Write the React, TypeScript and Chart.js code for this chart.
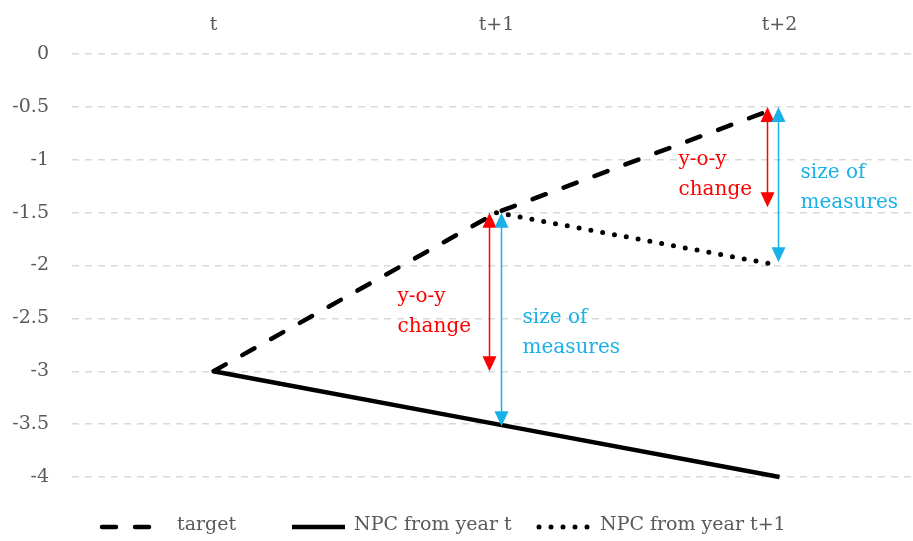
import React, { useEffect, useRef } from 'react';
import { Chart, registerables } from 'chart.js';

Chart.register(...registerables);

// ---- data ----
const categories = ['t', 't+1', 't+2'];
const seriesLabels = ['target', 'NPC from year t', 'NPC from year t+1'];
const targetValues = [-3, -1.5, -0.5];
const npcFromYearT = [-3, -3.5, -4];
const npcFromYearT1: (number | null)[] = [null, -1.5, -2];
const yMin = -4;
const yMax = 0;
const yStep = 0.5;

// annotation arrows (category index, from value, to value)
const yoyCats = [1, 2];
const yoyFrom = [-1.5, -0.5];
const yoyTo = [-3, -1.45];
const measCats = [1, 2];
const measFrom = [-1.5, -0.5];
const measTo = [-3.52, -1.97];
const yoyText = ['y-o-y', 'change'];
const measText = ['size of', 'measures'];

const RED = '#ff0000';
const BLUE = '#1ab0e8';
const GRAY = '#595959';
const FONT = '"DejaVu Serif", serif';

function drawArrow(ctx: CanvasRenderingContext2D, x: number, yA: number, yB: number, color: string) {
  const top = Math.min(yA, yB);
  const bot = Math.max(yA, yB);
  const hl = 15;
  const hw = 7;
  ctx.save();
  ctx.strokeStyle = color;
  ctx.fillStyle = color;
  ctx.lineWidth = 1.5;
  ctx.beginPath();
  ctx.moveTo(x, top + hl - 1);
  ctx.lineTo(x, bot - hl + 1);
  ctx.stroke();
  ctx.beginPath();
  ctx.moveTo(x, top);
  ctx.lineTo(x - hw, top + hl);
  ctx.lineTo(x + hw, top + hl);
  ctx.closePath();
  ctx.fill();
  ctx.beginPath();
  ctx.moveTo(x, bot);
  ctx.lineTo(x - hw, bot - hl);
  ctx.lineTo(x + hw, bot - hl);
  ctx.closePath();
  ctx.fill();
  ctx.restore();
}

const annotationPlugin = {
  id: 'arrowsAndNotes',
  afterDatasetsDraw(chart: any) {
    const ctx: CanvasRenderingContext2D = chart.ctx;
    const xs = chart.scales.x;
    const ys = chart.scales.y;
    const yoyDx = [-7, -12];
    const measDx = [5, -1];
    yoyCats.forEach((c, i) => {
      drawArrow(ctx, xs.getPixelForValue(c) + yoyDx[i], ys.getPixelForValue(yoyFrom[i]), ys.getPixelForValue(yoyTo[i]), RED);
    });
    measCats.forEach((c, i) => {
      drawArrow(ctx, xs.getPixelForValue(c) + measDx[i], ys.getPixelForValue(measFrom[i]), ys.getPixelForValue(measTo[i]), BLUE);
    });
    const notes = [
      { cat: 1, dx: -99, y: -2.3, lines: yoyText, color: RED },
      { cat: 1, dx: 26, y: -2.49, lines: measText, color: BLUE },
      { cat: 2, dx: -101, y: -1.0, lines: yoyText, color: RED },
      { cat: 2, dx: 21, y: -1.12, lines: measText, color: BLUE },
    ];
    ctx.save();
    ctx.font = '20px ' + FONT;
    ctx.textAlign = 'left';
    ctx.textBaseline = 'middle';
    notes.forEach((n) => {
      ctx.fillStyle = n.color;
      const x = xs.getPixelForValue(n.cat) + n.dx;
      const y = ys.getPixelForValue(n.y);
      n.lines.forEach((l, k) => ctx.fillText(l, x, y + k * 30));
    });
    ctx.restore();
  },
};

const legendPlugin = {
  id: 'customLegend',
  afterDraw(chart: any) {
    const ctx: CanvasRenderingContext2D = chart.ctx;
    const sampleX = [100, 290, 537];
    const textX = [177, 354, 600];
    const y = 527;
    ctx.save();
    chart.data.datasets.forEach((ds: any, i: number) => {
      ctx.strokeStyle = ds.borderColor;
      ctx.lineWidth = ds.borderWidth;
      ctx.lineCap = ds.borderCapStyle || 'butt';
      ctx.setLineDash(ds.borderDash || []);
      ctx.beginPath();
      ctx.moveTo(sampleX[i] + 2, y);
      ctx.lineTo(sampleX[i] + 55, y);
      ctx.stroke();
      ctx.setLineDash([]);
      ctx.fillStyle = GRAY;
      ctx.font = '19px ' + FONT;
      ctx.textAlign = 'left';
      ctx.textBaseline = 'middle';
      ctx.fillText(ds.label, textX[i], y - 2);
    });
    ctx.restore();
  },
};

export default function App() {
  const ref = useRef<HTMLCanvasElement | null>(null);
  useEffect(() => {
    if (!ref.current) return;
    Chart.defaults.font.family = FONT;
    const toPts = (arr: (number | null)[]) => arr.map((v, i) => ({ x: i, y: v }));
    const chart = new Chart(ref.current, {
      type: 'line',
      data: {
        datasets: [
          {
            label: seriesLabels[0],
            data: toPts(targetValues) as any,
            borderColor: '#000',
            borderWidth: 4.5,
            borderDash: [14, 19],
            borderCapStyle: 'round',
            pointRadius: 0,
            tension: 0,
            clip: false as any,
          },
          {
            label: seriesLabels[1],
            data: toPts(npcFromYearT) as any,
            borderColor: '#000',
            borderWidth: 4.5,
            borderCapStyle: 'butt',
            pointRadius: 0,
            tension: 0,
            clip: false as any,
          },
          {
            label: seriesLabels[2],
            data: toPts(npcFromYearT1) as any,
            borderColor: '#000',
            borderWidth: 5,
            borderDash: [0, 12],
            borderCapStyle: 'round',
            pointRadius: 0,
            tension: 0,
            spanGaps: false,
            clip: false as any,
          },
        ],
      },
      options: {
        animation: false,
        responsive: false,
        devicePixelRatio: 1,
        layout: { padding: { left: 0, right: 0, top: 0, bottom: 64 } },
        plugins: { legend: { display: false }, tooltip: { enabled: false } },
        scales: {
          x: {
            type: 'linear',
            position: 'top',
            min: -0.5,
            max: 2.4717,
            grid: { display: false },
            border: { display: false },
            afterBuildTicks: (s: any) => {
              s.ticks = categories.map((_, i) => ({ value: i }));
            },
            afterFit: (s: any) => {
              s.height = 54;
            },
            ticks: {
              autoSkip: false,
              maxRotation: 0,
              padding: 10,
              color: GRAY,
              font: { size: 19, family: FONT },
              callback: (v: any) => categories[v] ?? '',
            },
          },
          y: {
            min: yMin,
            max: yMax,
            afterFit: (s: any) => {
              s.width = 72;
            },
            grid: { color: '#d9d9d9', lineWidth: 1.5, drawTicks: false },
            border: { display: false, dash: [7, 6] },
            ticks: {
              stepSize: yStep,
              padding: 23,
              color: GRAY,
              font: { size: 19, family: FONT },
              callback: (v: any) => String(v),
            },
          },
        },
      },
      plugins: [annotationPlugin, legendPlugin],
    });
    return () => chart.destroy();
  }, []);
  return (
    <div style={{ position: 'fixed', left: 0, top: 0, width: 913, height: 541, background: '#fff' }}>
      <canvas ref={ref} width={913} height={541} />
    </div>
  );
}
